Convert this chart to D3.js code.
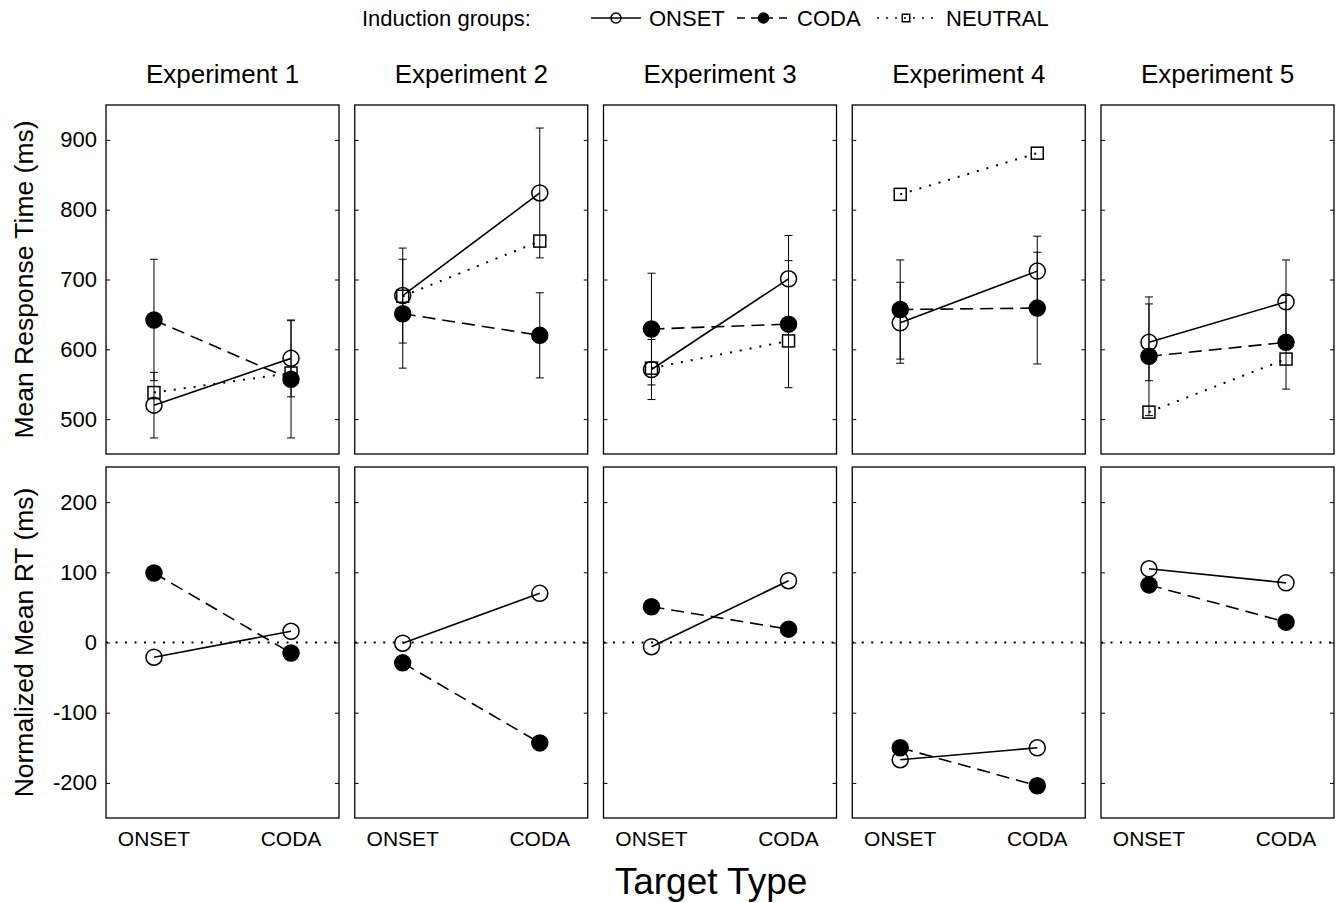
<!DOCTYPE html>
<html lang="en">
<head>
  <meta charset="UTF-8">
  <title>Induction groups – Mean RT by Target Type</title>
  <script src="https://d3js.org/d3.v7.min.js"></script>
  <style>
    body {
      margin: 0;
      background: #fff;
    }

    svg {
      display: block;
      font-family: "Liberation Sans", Arial, Helvetica, sans-serif;
    }

    .frame {
      fill: none;
      stroke: #000;
      stroke-width: 1.3px;
    }

    .tick line {
      stroke: #000;
    }

    .tick text {
      font-size: 22px;
      fill: #000;
    }

    .err {
      stroke: #000;
      stroke-width: 1px;
    }
  </style>
</head>
<body>
  <svg width="1336" height="903"></svg>

  <script>
    // --- data ---
    const experiments = ["Experiment 1", "Experiment 2", "Experiment 3", "Experiment 4", "Experiment 5"];
    const targets = ["ONSET", "CODA"];
    const groups = ["ONSET", "CODA", "NEUTRAL"];

    // mean RT (ms), [ONSET target, CODA target] per experiment
    const rtOnset   = [[520, 587], [677, 824], [571, 701], [638, 712], [610, 668]];
    const rtCoda    = [[642, 557], [651, 620], [629, 636], [657, 659], [590, 610]];
    const rtNeutral = [[538, 566], [676, 755], [573, 612], [822, 881], [510, 586]];

    // error bar half-widths (ms)
    const errOnset = [[47, 55], [68, 93], [43, 62], [58, 50], [55, 60]];
    const errCoda  = [[87, 84], [78, 61], [80, 91], [71, 80], [85, 67]];

    // normalized mean RT (ms)
    const normOnset = [[-21, 16], [-1, 70], [-6, 88], [-167, -150], [105, 85]];
    const normCoda  = [[99, -15], [-29, -143], [51, 19], [-150, -204], [82, 29]];

    const topTicks = [500, 600, 700, 800, 900];
    const botTicks = [-200, -100, 0, 100, 200];

    // --- layout ---
    const svg = d3.select("svg");
    const panelW = 233;
    const colX = d3.range(5).map(i => 106 + i * 248.75);
    const topY = 105, topH = 349;
    const botY = 467, botH = 351;

    const x = d3.scalePoint().domain(targets).range([0, panelW]).padding(0.35);
    const yTop = d3.scaleLinear().domain([450, 950]).range([topH, 0]);
    const yBot = d3.scaleLinear().domain([-250, 250]).range([botH, 0]);

    const styles = {
      ONSET:   { dash: null,   fill: "none", shape: "circle" },
      CODA:    { dash: "13,7", fill: "#000", shape: "circle" },
      NEUTRAL: { dash: "2,8",  fill: "none", shape: "square" }
    };

    function marker(g, shape, fill, cx, cy, r) {
      if (shape === "circle") {
        g.append("circle")
          .attr("cx", cx).attr("cy", cy).attr("r", r)
          .attr("fill", fill).attr("stroke", "#000").attr("stroke-width", 1.5);
      } else {
        g.append("rect")
          .attr("x", cx - r * 0.75).attr("y", cy - r * 0.75)
          .attr("width", r * 1.5).attr("height", r * 1.5)
          .attr("fill", fill).attr("stroke", "#000").attr("stroke-width", 1.5);
      }
    }

    function drawSeries(g, y, vals, grp, err) {
      const st = styles[grp];
      const pts = targets.map((t, j) => [x(t), y(vals[j])]);
      g.append("path")
        .attr("d", d3.line()(pts))
        .attr("fill", "none")
        .attr("stroke", "#000")
        .attr("stroke-width", grp === "NEUTRAL" ? 2 : 1.6)
        .attr("stroke-dasharray", st.dash);
      if (err) {
        targets.forEach((t, j) => {
          const cx = x(t);
          const lo = y(vals[j] - err[j]), hi = y(vals[j] + err[j]);
          g.append("line").attr("class", "err")
            .attr("x1", cx).attr("x2", cx).attr("y1", lo).attr("y2", hi);
          [lo, hi].forEach(v => g.append("line").attr("class", "err")
            .attr("x1", cx - 4).attr("x2", cx + 4).attr("y1", v).attr("y2", v));
        });
      }
      return pts;
    }

    function panel(gx, gy, h, y, ticks, first) {
      const g = svg.append("g").attr("transform", `translate(${gx},${gy})`);
      const left = g.append("g").call(d3.axisLeft(y).tickValues(ticks)
        .tickFormat(d => String(d)).tickSize(-4).tickPadding(9));
      left.select(".domain").remove();
      if (!first) left.selectAll("text").remove();
      const right = g.append("g").attr("transform", `translate(${panelW},0)`)
        .call(d3.axisRight(y).tickValues(ticks).tickSize(-4));
      right.select(".domain").remove();
      right.selectAll("text").remove();
      g.append("rect").attr("class", "frame")
        .attr("x", 0).attr("y", 0).attr("width", panelW).attr("height", h);
      return g;
    }

    experiments.forEach((name, i) => {
      // title
      svg.append("text")
        .attr("x", colX[i] + panelW / 2).attr("y", 83)
        .attr("text-anchor", "middle")
        .attr("font-size", 26)
        .text(name);

      // top row: raw RT
      const gt = panel(colX[i], topY, topH, yTop, topTicks, i === 0);
      const series = [
        ["NEUTRAL", rtNeutral[i], null],
        ["CODA", rtCoda[i], errCoda[i]],
        ["ONSET", rtOnset[i], errOnset[i]]
      ];
      const allPts = series.map(([grp, v, e]) => [grp, drawSeries(gt, yTop, v, grp, e)]);
      allPts.forEach(([grp, pts]) => pts.forEach(p =>
        marker(gt, styles[grp].shape, styles[grp].fill, p[0], p[1], 8)));

      // bottom row: normalized RT
      const gb = panel(colX[i], botY, botH, yBot, botTicks, i === 0);
      gb.append("line")
        .attr("x1", 0).attr("x2", panelW)
        .attr("y1", yBot(0)).attr("y2", yBot(0))
        .attr("stroke", "#000").attr("stroke-width", 2)
        .attr("stroke-dasharray", "2,7.5");
      const bPts = [
        ["CODA", drawSeries(gb, yBot, normCoda[i], "CODA", null)],
        ["ONSET", drawSeries(gb, yBot, normOnset[i], "ONSET", null)]
      ];
      bPts.forEach(([grp, pts]) => pts.forEach(p =>
        marker(gb, "circle", styles[grp].fill, p[0], p[1], 8)));

      // x tick labels
      targets.forEach(t => {
        svg.append("text")
          .attr("x", colX[i] + x(t)).attr("y", 846)
          .attr("text-anchor", "middle")
          .attr("font-size", 21)
          .text(t);
      });
    });

    // axis titles
    svg.append("text")
      .attr("transform", `translate(33,${topY + topH / 2}) rotate(-90)`)
      .attr("text-anchor", "middle")
      .attr("font-size", 26.5)
      .text("Mean Response Time (ms)");
    svg.append("text")
      .attr("transform", `translate(33,${botY + botH / 2}) rotate(-90)`)
      .attr("text-anchor", "middle")
      .attr("font-size", 26.5)
      .text("Normalized Mean RT (ms)");
    svg.append("text")
      .attr("x", 711).attr("y", 894)
      .attr("text-anchor", "middle")
      .attr("font-size", 37)
      .text("Target Type");

    // legend
    const leg = svg.append("g").attr("font-size", 22);
    leg.append("text").attr("x", 362).attr("y", 26).text("Induction groups:");
    const legItems = [
      { grp: "ONSET", x1: 591, x2: 641, tx: 649 },
      { grp: "CODA", x1: 737, x2: 790, tx: 797 },
      { grp: "NEUTRAL", x1: 877, x2: 935, tx: 946 }
    ];
    legItems.forEach(d => {
      const st = styles[d.grp];
      leg.append("line")
        .attr("x1", d.x1).attr("x2", d.x2).attr("y1", 18).attr("y2", 18)
        .attr("stroke", "#000").attr("stroke-width", 1.5)
        .attr("stroke-dasharray", d.grp === "CODA" ? "8,6" : d.grp === "NEUTRAL" ? "2,7" : null);
      marker(leg, st.shape, st.fill, (d.x1 + d.x2) / 2, 18, 5);
      leg.append("text").attr("x", d.tx).attr("y", 26).text(d.grp);
    });
  </script>
</body>
</html>
